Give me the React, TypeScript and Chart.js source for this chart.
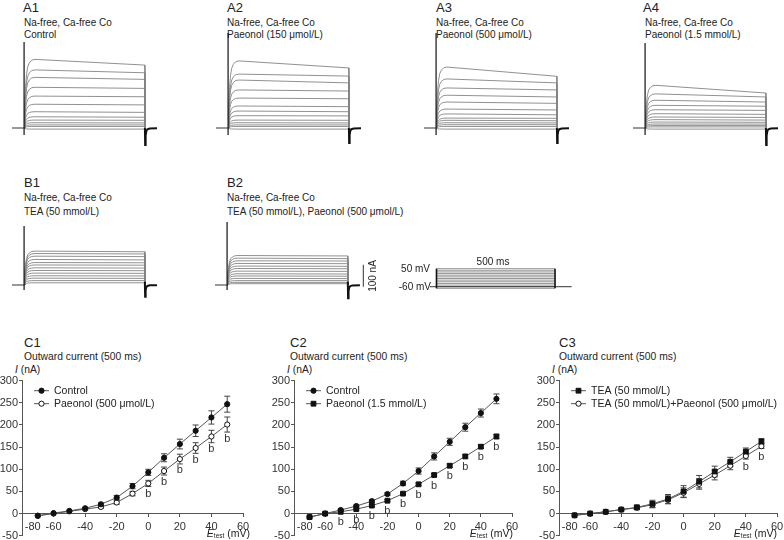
import React, { useEffect, useRef } from "react";
import { Chart, registerables } from "chart.js";

Chart.register(...registerables);

const FONT = "'Liberation Sans', Arial, Helvetica, sans-serif";

// ---------- I–V data (C panels) ----------
const testVoltages = [-70, -60, -50, -40, -30, -20, -10, 0, 10, 20, 30, 40, 50];

const c1Control = [-5, 1, 6, 12, 21, 36, 62, 93, 126, 157, 187, 217, 247];
const c1ControlErr = [1, 1, 1, 2, 3, 5, 6, 7, 9, 11, 13, 15, 18];
const c1Paeonol = [-5, 0, 5, 10, 15, 25, 45, 68, 96, 123, 148, 174, 201];
const c1PaeonolErr = [1, 1, 1, 2, 3, 4, 5, 7, 9, 11, 12, 14, 17];
const c1PaeonolSig = [0, 0, 0, 0, 0, 0, 0, 1, 1, 1, 1, 1, 1];

const c2Control = [-8, 0, 8, 17, 28, 44, 68, 96, 129, 162, 195, 227, 259];
const c2ControlErr = [2, 2, 2, 2, 3, 3, 5, 7, 8, 8, 9, 9, 11];
const c2Paeonol = [-8, 0, 4, 10, 18, 29, 45, 66, 87, 108, 129, 151, 174];
const c2PaeonolErr = [1, 1, 1, 2, 2, 2, 2, 3, 3, 4, 4, 4, 5];
const c2PaeonolSig = [0, 0, 1, 1, 1, 1, 1, 1, 1, 1, 1, 1, 1];

const c3Tea = [-4, 0, 4, 9, 14, 22, 33, 50, 72, 95, 117, 140, 163];
const c3TeaErr = [1, 1, 1, 2, 5, 8, 10, 13, 14, 12, 10, 8, 6];
const c3TeaPaeonol = [-4, 0, 4, 9, 13, 20, 31, 47, 67, 87, 108, 130, 152];
const c3TeaPaeonolErr = [1, 1, 1, 2, 4, 7, 9, 11, 12, 11, 9, 7, 5];
const c3TeaPaeonolSig = [0, 0, 0, 0, 0, 0, 0, 0, 0, 0, 0, 1, 1];

const noSig = [0, 0, 0, 0, 0, 0, 0, 0, 0, 0, 0, 0, 0];

// ---------- current traces (A, B panels), nA, largest step first ----------
const a1Peak = [312, 264, 230, 185, 145, 108, 74, 51, 36, 24, 14, 7, -5];
const a1End = [286, 251, 221, 180, 142, 105, 71, 49, 35, 23, 14, 7, -5];
const a2Peak = [305, 245, 218, 173, 136, 100, 77, 56, 36, 24, 14, 7, -5];
const a2End = [273, 236, 205, 168, 133, 97, 74, 55, 35, 23, 14, 7, -5];
const a3Peak = [277, 223, 182, 149, 118, 86, 64, 45, 35, 24, 15, 7, -5];
const a3End = [235, 205, 173, 141, 112, 82, 60, 44, 33, 23, 15, 7, -5];
const a4Peak = [194, 155, 126, 103, 83, 65, 50, 38, 27, 18, 11, 5, -5];
const a4End = [159, 141, 118, 99, 80, 62, 48, 36, 26, 18, 11, 5, -5];
const b1Peak = [154, 143, 131, 116, 102, 91, 78, 66, 54, 42, 31, 20, 10];
const b1End = [151, 141, 129, 114, 101, 90, 77, 65, 53, 41, 30, 20, 10];
const b2Peak = [134, 122, 110, 98, 86, 75, 63, 51, 41, 30, 20, 12, 6];
const b2End = [132, 120, 109, 97, 85, 74, 62, 50, 40, 29, 20, 12, 6];

// activation time course (ms, fraction of peak)
const riseTimes = [0, 3, 6, 10, 15, 22, 32, 45];
const riseFrac = [0, 0.35, 0.6, 0.78, 0.89, 0.95, 0.99, 1];
// tail current time course (ms, fraction of tail minimum)
const tailTimes = [500, 501, 503, 506, 510, 520, 550];
const tailFrac = [0, 1, 0.45, 0.18, 0.08, 0.03, 0.02];

// capacitive spike top, spike bottom, tail minimum, tail start (nA)
const a1Spike = [391, -32, -77, 0];
const a2Spike = [432, -32, -68, 0];
const a3Spike = [432, -32, -68, 0];
const a4Spike = [386, -32, -77, 0];
const b1Spike = [268, -23, -53, 15];
const b2Spike = [286, -23, -60, 15];

const scaleBarTime = 564;
const scaleBarRange = [-8, 92]; // 100 nA

// protocol
const holdingMv = -60;
const protocolBaseline = [-28, 570];
const pulseDuration = 500;

// ---------- geometry ----------
const PX_PER_MS = 0.241;
const PX_PER_NA = 0.22;
const T_MIN = -50;
const I_MIN = -100;
const I_MAX = 450;

type Pt = { x: number; y: number };

function lineDs(data: Pt[], color: string, width: number) {
  return {
    type: "line" as const,
    data,
    borderColor: color,
    borderWidth: width,
    pointRadius: 0,
    tension: 0,
    fill: false,
    clip: false as any,
  };
}

function hiddenScales(xmin: number, xmax: number, ymin: number, ymax: number) {
  return {
    x: { type: "linear", min: xmin, max: xmax, display: false },
    y: { type: "linear", min: ymin, max: ymax, display: false },
  };
}

function baseOpts() {
  return {
    animation: false,
    responsive: false,
    maintainAspectRatio: false,
    devicePixelRatio: 1,
    events: [],
    layout: { padding: 0 },
    plugins: { legend: { display: false }, tooltip: { enabled: false }, title: { display: false } },
  };
}

function traceConfig(peaks: number[], ends: number[], spike: number[], tMax: number, scaleBar: boolean) {
  const datasets: any[] = [];
  const [spTop, spBot, tailMin, tailTop] = spike;
  datasets.push(lineDs([{ x: 0, y: spBot }, { x: 0, y: spTop }], "#111", 1.2));
  const tail: Pt[] = [{ x: 500, y: tailTop }];
  tailTimes.forEach((t, k) => tail.push({ x: t, y: tailFrac[k] * tailMin }));
  datasets.push(lineDs(tail, "#111", 2));
  datasets.push(lineDs([{ x: T_MIN, y: 0 }, { x: 0, y: 0 }], "#333", 1));
  if (scaleBar) {
    datasets.push(
      lineDs([{ x: scaleBarTime, y: scaleBarRange[0] }, { x: scaleBarTime, y: scaleBarRange[1] }], "#333", 1)
    );
  }
  peaks.forEach((p, i) => {
    const pts: Pt[] = riseTimes.map((t, k) => ({ x: t, y: riseFrac[k] * p }));
    pts.push({ x: 500, y: ends[i] }, { x: 500, y: 0 });
    datasets.push(lineDs(pts, "#858585", 0.9));
  });
  return {
    type: "line",
    data: { datasets },
    options: { ...baseOpts(), scales: hiddenScales(T_MIN, tMax, I_MIN, I_MAX) },
  };
}

function protocolConfig() {
  const datasets: any[] = [];
  datasets.push(lineDs([{ x: 0, y: testVoltages[0] }, { x: 0, y: 50 }], "#111", 1.6));
  datasets.push(lineDs([{ x: pulseDuration, y: testVoltages[0] }, { x: pulseDuration, y: 50 }], "#111", 1.6));
  datasets.push(
    lineDs([{ x: protocolBaseline[0], y: holdingMv }, { x: protocolBaseline[1], y: holdingMv }], "#333", 1)
  );
  testVoltages.forEach((v) => {
    datasets.push(lineDs([{ x: 0, y: v }, { x: pulseDuration, y: v }], "#8a8a8a", 0.9));
  });
  return {
    type: "line",
    data: { datasets },
    options: { ...baseOpts(), scales: hiddenScales(-40, 580, -80, 60) },
  };
}

type Series = {
  values: number[];
  err: number[];
  sig: number[];
  style: "circle" | "rect";
  filled: boolean;
  label: string;
};

function ivConfig(series: Series[]) {
  const datasets = series.map((s) => ({
    type: "line" as const,
    label: s.label,
    data: testVoltages.map((v, i) => ({ x: v, y: s.values[i] })),
    borderColor: "#555",
    borderWidth: 1,
    tension: 0,
    fill: false,
    pointStyle: s.style,
    pointRadius: s.style === "rect" ? 3.4 : 2.6,
    pointBackgroundColor: s.filled ? "#111" : "#fff",
    pointBorderColor: "#111",
    pointBorderWidth: 1,
    clip: false as any,
  }));

  const errPlugin = {
    id: "errBars",
    beforeDatasetsDraw(chart: any) {
      const ctx = chart.ctx;
      const xs = chart.scales.x;
      const ys = chart.scales.y;
      ctx.save();
      ctx.strokeStyle = "#444";
      ctx.lineWidth = 1;
      series.forEach((s) => {
        testVoltages.forEach((v, i) => {
          const e = s.err[i];
          if (e < 2) return;
          const px = xs.getPixelForValue(v);
          const top = ys.getPixelForValue(s.values[i] + e);
          const bot = ys.getPixelForValue(s.values[i] - e);
          ctx.beginPath();
          ctx.moveTo(px, top);
          ctx.lineTo(px, bot);
          ctx.moveTo(px - 3, top);
          ctx.lineTo(px + 3, top);
          ctx.moveTo(px - 3, bot);
          ctx.lineTo(px + 3, bot);
          ctx.stroke();
        });
      });
      ctx.restore();
    },
  };

  const sigPlugin = {
    id: "sigLabels",
    afterDatasetsDraw(chart: any) {
      const ctx = chart.ctx;
      const xs = chart.scales.x;
      const ys = chart.scales.y;
      ctx.save();
      ctx.fillStyle = "#333";
      ctx.font = `11px ${FONT}`;
      ctx.textAlign = "center";
      ctx.textBaseline = "top";
      series.forEach((s) => {
        testVoltages.forEach((v, i) => {
          if (!s.sig[i]) return;
          const px = xs.getPixelForValue(v);
          const bot = ys.getPixelForValue(s.values[i] - s.err[i]);
          ctx.fillText("b", px, Math.max(bot, ys.getPixelForValue(s.values[i]) + 4) + 1);
        });
      });
      ctx.restore();
    },
  };

  const legendPlugin = {
    id: "ivLegend",
    afterDraw(chart: any) {
      const ctx = chart.ctx;
      const left = chart.chartArea.left;
      const top = chart.chartArea.top;
      ctx.save();
      series.forEach((s, k) => {
        const y = top + 10 + k * 13;
        ctx.strokeStyle = "#555";
        ctx.lineWidth = 1;
        ctx.beginPath();
        ctx.moveTo(left + 12, y);
        ctx.lineTo(left + 27, y);
        ctx.stroke();
        ctx.fillStyle = s.filled ? "#111" : "#fff";
        ctx.strokeStyle = "#111";
        ctx.beginPath();
        if (s.style === "rect") {
          ctx.rect(left + 19.5 - 2.4, y - 2.4, 4.8, 4.8);
        } else {
          ctx.arc(left + 19.5, y, 2.6, 0, Math.PI * 2);
        }
        ctx.fill();
        ctx.stroke();
        ctx.fillStyle = "#222";
        ctx.font = `10.5px ${FONT}`;
        ctx.textAlign = "left";
        ctx.textBaseline = "middle";
        ctx.fillText(s.label, left + 32, y + 0.5);
      });
      ctx.restore();
    },
  };

  const tickFont = { family: FONT, size: 11 };
  return {
    type: "line",
    data: { datasets },
    plugins: [errPlugin, sigPlugin, legendPlugin],
    options: {
      ...baseOpts(),
      layout: { padding: { top: 10.7, bottom: 14.3, left: 0, right: 15 } },
      scales: {
        x: {
          type: "linear",
          min: -80,
          max: 60,
          position: { y: 0 },
          ticks: {
            stepSize: 20,
            font: tickFont,
            color: "#333",
            padding: 4,
            maxRotation: 0,
            autoSkip: false,
            // the first label sits just right of the y axis, as in the figure
            callback: (v: any) => (Number(v) === -80 ? "       -80" : String(v)),
          },
          grid: { display: true, drawOnChartArea: false, drawTicks: true, tickLength: 3, color: "#555" },
          border: { display: true, color: "#555", width: 1 },
        },
        y: {
          type: "linear",
          min: -50,
          max: 300,
          ticks: { stepSize: 50, font: tickFont, color: "#333", padding: 1 },
          grid: { display: true, drawOnChartArea: false, drawTicks: true, tickLength: 3, color: "#555" },
          border: { display: true, color: "#555", width: 1 },
          afterFit: (s: any) => {
            s.width = 30;
          },
        },
      },
    },
  };
}

function ChartCanvas(props: { left: number; top: number; width: number; height: number; make: () => any }) {
  const ref = useRef<HTMLCanvasElement>(null);
  const { left, top, width, height, make } = props;
  useEffect(() => {
    const chart = new Chart(ref.current as HTMLCanvasElement, make());
    return () => chart.destroy();
  }, []);
  const w = Math.round(width);
  const h = Math.round(height);
  return (
    <canvas
      ref={ref}
      width={w}
      height={h}
      style={{ position: "absolute", left: Math.round(left), top: Math.round(top), width: w, height: h }}
    />
  );
}

function Txt(props: {
  x: number;
  y: number;
  size: number;
  align?: "left" | "right" | "center";
  children: React.ReactNode;
  style?: React.CSSProperties;
}) {
  const { x, y, size, align = "left", children, style } = props;
  const tx = align === "right" ? "translateX(-100%)" : align === "center" ? "translateX(-50%)" : "none";
  return (
    <div
      style={{
        position: "absolute",
        left: x,
        top: y - size / 2,
        fontSize: size,
        lineHeight: `${size}px`,
        whiteSpace: "nowrap",
        transform: tx,
        ...style,
      }}
    >
      {children}
    </div>
  );
}

function TracePanel(props: {
  t0: number;
  baseline: number;
  peaks: number[];
  ends: number[];
  spike: number[];
  tMax?: number;
  scaleBar?: boolean;
}) {
  const { t0, baseline, peaks, ends, spike, tMax = 550, scaleBar = false } = props;
  const left = t0 + T_MIN * PX_PER_MS;
  const width = (tMax - T_MIN) * PX_PER_MS;
  const top = baseline - I_MAX * PX_PER_NA;
  const height = (I_MAX - I_MIN) * PX_PER_NA;
  return (
    <ChartCanvas
      left={left}
      top={top}
      width={width}
      height={height}
      make={() => traceConfig(peaks, ends, spike, tMax, scaleBar)}
    />
  );
}

function IVPanel(props: { axisX: number; span: number; series: Series[] }) {
  const { axisX, span, series } = props;
  return (
    <ChartCanvas left={axisX - 30} top={370} width={30 + span + 15} height={180} make={() => ivConfig(series)} />
  );
}

const C1_SERIES: Series[] = [
  { values: c1Control, err: c1ControlErr, sig: noSig, style: "circle", filled: true, label: "Control" },
  { values: c1Paeonol, err: c1PaeonolErr, sig: c1PaeonolSig, style: "circle", filled: false, label: "Paeonol (500 μmol/L)" },
];
const C2_SERIES: Series[] = [
  { values: c2Control, err: c2ControlErr, sig: noSig, style: "circle", filled: true, label: "Control" },
  { values: c2Paeonol, err: c2PaeonolErr, sig: c2PaeonolSig, style: "rect", filled: true, label: "Paeonol (1.5 mmol/L)" },
];
const C3_SERIES: Series[] = [
  { values: c3Tea, err: c3TeaErr, sig: noSig, style: "rect", filled: true, label: "TEA (50 mmol/L)" },
  {
    values: c3TeaPaeonol,
    err: c3TeaPaeonolErr,
    sig: c3TeaPaeonolSig,
    style: "circle",
    filled: false,
    label: "TEA (50 mmol/L)+Paeonol (500 μmol/L)",
  },
];

function ETest(props: { right: number }) {
  return (
    <Txt x={props.right} y={533} size={10.5} align="right">
      <i>E</i>
      <sub style={{ fontSize: 6.5, verticalAlign: "-1px" }}>test</sub> (mV)
    </Txt>
  );
}

export default function App() {
  const head = 13;
  const small = 10;
  const mid = 10.3;
  return (
    <div
      style={{
        position: "absolute",
        left: 0,
        top: 0,
        width: 784,
        height: 540,
        overflow: "hidden",
        background: "#fff",
        fontFamily: FONT,
        color: "#222",
      }}
    >
      {/* A row */}
      <Txt x={23} y={7} size={head}>A1</Txt>
      <Txt x={24} y={22.5} size={small}>Na-free, Ca-free Co</Txt>
      <Txt x={24} y={34.5} size={small}>Control</Txt>

      <Txt x={227} y={7} size={head}>A2</Txt>
      <Txt x={227} y={22.5} size={small}>Na-free, Ca-free Co</Txt>
      <Txt x={227} y={34.5} size={small}>Paeonol (150 μmol/L)</Txt>

      <Txt x={436} y={7} size={head}>A3</Txt>
      <Txt x={436} y={22.5} size={small}>Na-free, Ca-free Co</Txt>
      <Txt x={436} y={34.5} size={small}>Paeonol (500 μmol/L)</Txt>

      <Txt x={643} y={7} size={head}>A4</Txt>
      <Txt x={645} y={22.5} size={small}>Na-free, Ca-free Co</Txt>
      <Txt x={645} y={34.5} size={small}>Paeonol (1.5 mmol/L)</Txt>

      <TracePanel t0={24} baseline={128} peaks={a1Peak} ends={a1End} spike={a1Spike} />
      <TracePanel t0={228.3} baseline={128.3} peaks={a2Peak} ends={a2End} spike={a2Spike} />
      <TracePanel t0={436} baseline={127.7} peaks={a3Peak} ends={a3End} spike={a3Spike} />
      <TracePanel t0={645} baseline={127.7} peaks={a4Peak} ends={a4End} spike={a4Spike} />

      {/* B row */}
      <Txt x={24} y={182} size={head}>B1</Txt>
      <Txt x={24} y={198} size={small}>Na-free, Ca-free Co</Txt>
      <Txt x={24} y={212} size={small}>TEA (50 mmol/L)</Txt>

      <Txt x={227} y={182} size={head}>B2</Txt>
      <Txt x={227} y={198} size={small}>Na-free, Ca-free Co</Txt>
      <Txt x={227} y={212} size={small}>TEA (50 mmol/L), Paeonol (500 μmol/L)</Txt>

      <TracePanel t0={24} baseline={285} peaks={b1Peak} ends={b1End} spike={b1Spike} />
      <TracePanel
        t0={227.3}
        baseline={285}
        peaks={b2Peak}
        ends={b2End}
        spike={b2Spike}
        tMax={600}
        scaleBar={true}
      />
      <Txt x={373} y={276} size={small} align="center" style={{ transform: "translateX(-50%) rotate(-90deg)" }}>
        100 nA
      </Txt>

      {/* protocol */}
      <ChartCanvas
        left={436.7 - 40 * 0.2367}
        top={266.7}
        width={620 * 0.2367}
        height={140 * 0.161}
        make={protocolConfig}
      />
      <Txt x={430} y={269} size={small} align="right">50 mV</Txt>
      <Txt x={431} y={287} size={small} align="right">-60 mV</Txt>
      <Txt x={493} y={262} size={small} align="center">500 ms</Txt>

      {/* C row */}
      <Txt x={24} y={342} size={head}>C1</Txt>
      <Txt x={24} y={357} size={mid}>Outward current (500 ms)</Txt>
      <Txt x={15} y={370} size={mid}><i>I</i> (nA)</Txt>
      <IVPanel axisX={22} span={221} series={C1_SERIES} />
      <ETest right={250} />

      <Txt x={290} y={342} size={head}>C2</Txt>
      <Txt x={290} y={357} size={mid}>Outward current (500 ms)</Txt>
      <Txt x={287} y={370} size={mid}><i>I</i> (nA)</Txt>
      <IVPanel axisX={294} span={218} series={C2_SERIES} />
      <ETest right={513} />

      <Txt x={559} y={342} size={head}>C3</Txt>
      <Txt x={559} y={357} size={mid}>Outward current (500 ms)</Txt>
      <Txt x={552} y={370} size={mid}><i>I</i> (nA)</Txt>
      <IVPanel axisX={559} span={218} series={C3_SERIES} />
      <ETest right={777} />
    </div>
  );
}
